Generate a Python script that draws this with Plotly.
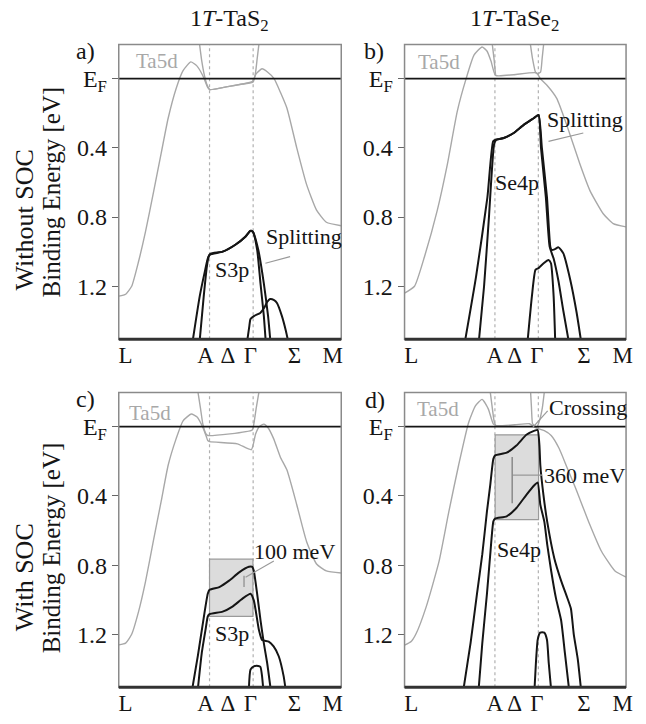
import plotly.graph_objects as go

# ---------------- data ----------------
K_A = 0.408   # A point along path (L=0, M=1)
K_G = 0.604   # Gamma point
k_tick_text = ["L", "A", "Δ", "Γ", "Σ", "M"]
k_tick_vals_left = [0.03, 0.39, 0.49, 0.592, 0.79, 0.962]
k_tick_vals_right = [0.03, 0.408, 0.497, 0.597, 0.81, 0.985]
e_tick_vals = [0, 0.4, 0.8, 1.2]
e_tick_text = ["E<sub>F</sub>", "0.4", "0.8", "1.2"]

# panel a: 1T-TaS2 without SOC
a_ta5d_k = [0, 0.031, 0.058, 0.089, 0.12, 0.156, 0.191, 0.222, 0.258, 0.289, 0.324, 0.351, 0.378, 0.4, 0.409, 0.489, 0.556, 0.6, 0.618, 0.644, 0.667, 0.698, 0.727, 0.756, 0.8, 0.844, 0.889, 0.933, 1.0]
a_ta5d_e = [1.257, 1.246, 1.2, 1.057, 0.886, 0.657, 0.429, 0.229, 0.057, -0.046, -0.097, -0.074, -0.017, 0.051, 0.063, 0.046, 0.031, 0.017, -0.029, -0.057, -0.04, 0, 0.08, 0.171, 0.4, 0.611, 0.76, 0.83, 0.85]
a_pocket_k = [0.363, 0.373, 0.385, 0.398, 0.409, 0.489, 0.556, 0.604, 0.615, 0.622, 0.63]
a_pocket_e = [-0.2, -0.103, -0.019, 0.04, 0.063, 0.046, 0.031, 0.019, -0.038, -0.114, -0.2]
a_p1_k = [0.333, 0.364, 0.387, 0.4, 0.409, 0.467, 0.524, 0.569, 0.591, 0.603, 0.622, 0.637, 0.652, 0.66]
a_p1_e = [1.51, 1.257, 1.114, 1.04, 1.017, 1.0, 0.96, 0.914, 0.88, 0.886, 0.989, 1.183, 1.371, 1.51]
a_p2_k = [0.364, 0.382, 0.396, 0.404, 0.413, 0.467, 0.524, 0.569, 0.591, 0.603, 0.627, 0.652, 0.671, 0.681]
a_p2_e = [1.51, 1.257, 1.086, 1.029, 1.011, 1.0, 0.96, 0.914, 0.88, 0.886, 0.989, 1.183, 1.371, 1.51]
a_p3_k = [0.578, 0.587, 0.592, 0.609, 0.636, 0.653, 0.667, 0.68, 0.698, 0.711, 0.733, 0.751, 0.76]
a_p3_e = [1.51, 1.429, 1.389, 1.371, 1.354, 1.326, 1.291, 1.274, 1.28, 1.297, 1.371, 1.457, 1.51]

# panel b: 1T-TaSe2 without SOC
b_ta5d_k = [0, 0.045, 0.09, 0.148, 0.193, 0.238, 0.278, 0.314, 0.35, 0.372, 0.39, 0.411, 0.493, 0.596, 0.613, 0.643, 0.687, 0.732, 0.792, 0.837, 0.897, 0.942, 1.0]
b_ta5d_e = [1.24, 1.2, 1.029, 0.76, 0.497, 0.189, 0, -0.137, -0.183, -0.16, -0.103, -0.019, -0.023, -0.034, 0.0, 0.038, 0.114, 0.267, 0.495, 0.647, 0.781, 0.838, 0.857]
b_pocket_k = [0.396, 0.404, 0.411, None, 0.568, 0.578, 0.591, 0.6, 0.614, 0.621, 0.628]
b_pocket_e = [-0.2, -0.114, -0.019, None, -0.2, -0.114, -0.038, -0.028, -0.038, -0.114, -0.2]
b_p1_k = [0.274, 0.323, 0.374, 0.4, 0.411, 0.448, 0.493, 0.538, 0.583, 0.605, 0.62, 0.643, 0.658, 0.664, 0.677, 0.695, 0.717, 0.748, 0.777, 0.796]
b_p1_e = [1.51, 1.143, 0.686, 0.362, 0.353, 0.343, 0.314, 0.267, 0.229, 0.21, 0.4, 0.686, 0.971, 0.99, 0.987, 0.975, 1.01, 1.162, 1.353, 1.51]
b_p2_k = [0.336, 0.359, 0.381, 0.404, 0.413, 0.448, 0.493, 0.538, 0.583, 0.605, 0.616, 0.638, 0.655, 0.673, 0.695, 0.717, 0.74]
b_p2_e = [1.51, 1.2, 0.8, 0.381, 0.354, 0.343, 0.314, 0.267, 0.229, 0.21, 0.4, 0.686, 0.971, 1.04, 1.171, 1.343, 1.51]
b_p3_k = [0.556, 0.575, 0.591, 0.605, 0.628, 0.65, 0.661, 0.673, 0.68]
b_p3_e = [1.51, 1.257, 1.105, 1.095, 1.067, 1.048, 1.067, 1.257, 1.51]

# panel c: 1T-TaS2 with SOC
c_ta5d_k = [0, 0.031, 0.058, 0.089, 0.12, 0.156, 0.191, 0.222, 0.258, 0.289, 0.326, 0.351, 0.378, 0.392, 0.4, 0.409, 0.533, 0.596, 0.615, 0.631, 0.652, 0.671, 0.696, 0.726, 0.756, 0.8, 0.844, 0.889, 0.933, 1.0]
c_ta5d_e = [1.261, 1.251, 1.2, 1.069, 0.897, 0.657, 0.429, 0.223, 0.069, -0.034, -0.073, -0.057, 0.004, 0.051, 0.08, 0.086, 0.099, 0.133, 0.042, 0.0, -0.015, 0.006, 0.069, 0.175, 0.251, 0.451, 0.663, 0.794, 0.834, 0.846]
c_pocket_k = [0.356, 0.367, 0.378, 0.392, 0.4, 0.6, 0.607, 0.618, 0.63]
c_pocket_e = [-0.2, -0.109, -0.015, 0.042, 0.051, 0.019, -0.015, -0.109, -0.2]
c_p1_k = [0.331, 0.356, 0.378, 0.4, 0.408, 0.452, 0.496, 0.541, 0.585, 0.6, 0.607, 0.622, 0.637, 0.652, 0.667, 0.682]
c_p1_e = [1.51, 1.32, 1.137, 0.966, 0.943, 0.927, 0.89, 0.842, 0.81, 0.81, 0.833, 0.966, 1.118, 1.251, 1.366, 1.51]
c_p2_k = [0.356, 0.373, 0.391, 0.4, 0.408, 0.467, 0.511, 0.556, 0.592, 0.607, 0.63, 0.644, 0.674, 0.696, 0.719, 0.741, 0.749]
c_p2_e = [1.51, 1.309, 1.166, 1.097, 1.084, 1.069, 1.04, 0.994, 0.966, 1.004, 1.175, 1.233, 1.242, 1.27, 1.327, 1.442, 1.51]
c_p3_k = [0.585, 0.592, 0.607, 0.627, 0.637, 0.644, 0.649]
c_p3_e = [1.51, 1.404, 1.385, 1.383, 1.389, 1.442, 1.51]
c_box_k = [0.408, 0.603]
c_box_e = [0.766, 1.097]

# panel d: 1T-TaSe2 with SOC
d_ta5d_k = [0, 0.031, 0.053, 0.098, 0.156, 0.2, 0.244, 0.289, 0.32, 0.35, 0.378, 0.401, 0.416, 0.498, 0.564, 0.591, 0.631, 0.662, 0.698, 0.733, 0.772, 0.831, 0.889, 0.95, 1.0]
d_ta5d_e = [1.263, 1.24, 1.194, 1.04, 0.777, 0.491, 0.223, -0.023, -0.12, -0.158, -0.103, -0.015, -0.006, -0.011, -0.017, 0.006, 0.023, 0.051, 0.126, 0.234, 0.354, 0.549, 0.72, 0.834, 0.869]
d_pocket_k = [0.387, 0.396, 0.404, 0.411, None, 0.569, 0.573, 0.578, 0.588, 0.596, 0.609, 0.622, 0.631]
d_pocket_e = [-0.2, -0.109, -0.034, -0.006, None, -0.2, -0.109, -0.017, -0.005, 0.006, -0.034, -0.109, -0.2]
d_p1_k = [0.267, 0.298, 0.327, 0.351, 0.372, 0.387, 0.401, 0.409, 0.461, 0.505, 0.55, 0.587, 0.601, 0.609, 0.613, 0.627, 0.644, 0.676, 0.707, 0.733, 0.751, 0.764, 0.782, 0.796]
d_p1_e = [1.51, 1.251, 0.966, 0.737, 0.49, 0.337, 0.185, 0.166, 0.15, 0.109, 0.047, 0.023, 0.019, 0.109, 0.223, 0.394, 0.549, 0.76, 0.891, 0.983, 1.051, 1.2, 1.343, 1.51]
d_p2_k = [0.335, 0.351, 0.372, 0.387, 0.401, 0.409, 0.461, 0.505, 0.55, 0.587, 0.601, 0.613, 0.631, 0.644, 0.662, 0.684, 0.707, 0.724, 0.742]
d_p2_e = [1.51, 1.251, 0.966, 0.737, 0.547, 0.531, 0.518, 0.47, 0.394, 0.337, 0.322, 0.451, 0.549, 0.68, 0.834, 0.994, 1.12, 1.309, 1.51]
d_p3_k = [0.587, 0.593, 0.601, 0.612, 0.631, 0.643, 0.651, 0.661]
d_p3_e = [1.51, 1.366, 1.232, 1.19, 1.19, 1.232, 1.366, 1.51]
d_box_k = [0.409, 0.605]
d_box_e = [0.047, 0.537]

column_titles = ["1<i>T</i>-TaS<sub>2</sub>", "1<i>T</i>-TaSe<sub>2</sub>"]
row_titles = ["Without SOC", "With SOC"]
panel_letters = ["a)", "b)", "c)", "d)"]

# ---------------- styling ----------------
FONT = "Liberation Serif, Times New Roman, serif"
GRAY = "#a8a8a8"
BLACK = "#151515"
PAGE_W, PAGE_H = 646, 724
OFF = 8                      # default page margin of the html body
W, H = PAGE_W - 2 * OFF, PAGE_H - 2 * OFF


def px(x):
    return (x - OFF) / W


def py(y):
    return 1 - (y - OFF) / H


col_dom = [[px(120), px(345)], [px(409), px(633)]]
row_dom = [[py(343), py(45)], [py(695), py(397)]]
col_ticks = [k_tick_vals_left, k_tick_vals_right]

fig = go.Figure()

panels = [
    dict(ta5d=(a_ta5d_k, a_ta5d_e), pocket=(a_pocket_k, a_pocket_e),
         bands=[(a_p1_k, a_p1_e), (a_p2_k, a_p2_e), (a_p3_k, a_p3_e)], box=None, row=0, col=0),
    dict(ta5d=(b_ta5d_k, b_ta5d_e), pocket=(b_pocket_k, b_pocket_e),
         bands=[(b_p1_k, b_p1_e), (b_p2_k, b_p2_e), (b_p3_k, b_p3_e)], box=None, row=0, col=1),
    dict(ta5d=(c_ta5d_k, c_ta5d_e), pocket=(c_pocket_k, c_pocket_e),
         bands=[(c_p1_k, c_p1_e), (c_p2_k, c_p2_e), (c_p3_k, c_p3_e)], box=(c_box_k, c_box_e), row=1, col=0),
    dict(ta5d=(d_ta5d_k, d_ta5d_e), pocket=(d_pocket_k, d_pocket_e),
         bands=[(d_p1_k, d_p1_e), (d_p2_k, d_p2_e), (d_p3_k, d_p3_e)], box=(d_box_k, d_box_e), row=1, col=1),
]

shapes = []
annotations = []
for i, p in enumerate(panels):
    n = "" if i == 0 else str(i + 1)
    xr, yr = "x" + n, "y" + n
    if p["box"] is not None:
        bk, be = p["box"]
        shapes.append(dict(type="rect", xref=xr, yref=yr, x0=bk[0], x1=bk[1], y0=be[0], y1=be[1],
                           fillcolor="#dcdcdc", line=dict(color="#9a9a9a", width=1.2), layer="below"))
    for kv in (K_A, K_G):
        shapes.append(dict(type="line", xref=xr, yref=yr + " domain", x0=kv, x1=kv, y0=0, y1=1,
                           line=dict(color="#b0b0b0", width=1.2, dash="dot"), layer="below"))
    for kk, ee in [p["ta5d"], p["pocket"]]:
        fig.add_trace(go.Scatter(x=kk, y=ee, mode="lines", xaxis=xr, yaxis=yr, connectgaps=False,
                                 line=dict(color=GRAY, width=1.4, shape="spline", smoothing=0.5),
                                 hoverinfo="skip", showlegend=False))
    for kk, ee in p["bands"]:
        fig.add_trace(go.Scatter(x=kk, y=ee, mode="lines", xaxis=xr, yaxis=yr,
                                 line=dict(color=BLACK, width=2, shape="spline", smoothing=0.5),
                                 hoverinfo="skip", showlegend=False))
    shapes.append(dict(type="line", xref=xr + " domain", yref=yr, x0=0, x1=1, y0=0, y1=0,
                       line=dict(color=BLACK, width=1.8)))
    shapes.append(dict(type="rect", xref=xr + " domain", yref=yr + " domain", x0=0, x1=1, y0=0, y1=1,
                       line=dict(color="#8a8a8a", width=1.5)))
    shapes.append(dict(type="line", xref=xr + " domain", yref=yr + " domain", x0=0, x1=1, y0=0, y1=0,
                       line=dict(color="#333333", width=3)))
    annotations.append(dict(xref=xr, yref=yr, x=[0.171, 0.157, 0.14, 0.153][i], y=[-0.103, -0.097, -0.082, -0.1][i],
                            text="Ta5d", showarrow=False, xanchor="center", yanchor="middle",
                            font=dict(family=FONT, size=21, color=GRAY)))
    annotations.append(dict(xref="paper", yref="paper", x=px([86, 378, 86, 379][i]),
                            y=py([51, 51, 403, 404][i]), text=panel_letters[i], showarrow=False,
                            xanchor="center", yanchor="middle",
                            font=dict(family=FONT, size=24, color=BLACK)))

    fig.layout["xaxis" + n] = dict(domain=col_dom[p["col"]], range=[0, 1], anchor=yr,
                                   tickvals=col_ticks[p["col"]], ticktext=k_tick_text, ticks="",
                                   showgrid=False, zeroline=False, showline=False,
                                   tickfont=dict(family=FONT, size=23, color=BLACK))
    fig.layout["yaxis" + n] = dict(domain=row_dom[p["row"]], range=[1.506, -0.197], anchor=xr,
                                   tickvals=e_tick_vals, ticktext=e_tick_text, ticks="outside",
                                   ticklen=6, tickcolor="#666", tickwidth=1.2,
                                   showgrid=False, zeroline=False, showline=False,
                                   tickfont=dict(family=FONT, size=24, color=BLACK))


def seg(xr, yr, x0, y0, x1, y1, color="#999999", width=1.2):
    shapes.append(dict(type="line", xref=xr, yref=yr, x0=x0, y0=y0, x1=x1, y1=y1,
                       line=dict(color=color, width=width)))


def txt(xr, yr, x, y, s, anchor="center", size=22, color=BLACK):
    annotations.append(dict(xref=xr, yref=yr, x=x, y=y, text=s, showarrow=False, xanchor=anchor,
                            yanchor="middle", font=dict(family=FONT, size=size, color=color)))


# panel a
txt("x", "y", 0.652, 0.914, "Splitting", "left")
seg("x", "y", 0.77, 1.029, 0.659, 1.067)
txt("x", "y", 0.508, 1.105, "S3p")
# panel b
txt("x2", "y2", 0.635, 0.238, "Splitting", "left")
seg("x2", "y2", 0.807, 0.314, 0.65, 0.362)
txt("x2", "y2", 0.508, 0.6, "Se4p")
# panel c
txt("x3", "y3", 0.6, 0.72, "100 meV", "left")
seg("x3", "y3", 0.697, 0.776, 0.57, 0.87)
seg("x3", "y3", 0.563, 0.861, 0.563, 0.927, color="#8a8a8a")
txt("x3", "y3", 0.508, 1.194, "S3p")
# panel d
txt("x4", "y4", 0.644, -0.11, "Crossing", "left")
seg("x4", "y4", 0.646, -0.091, 0.579, 0.004)
txt("x4", "y4", 0.622, 0.28, "360 meV", "left")
seg("x4", "y4", 0.486, 0.28, 0.621, 0.28)
seg("x4", "y4", 0.486, 0.175, 0.486, 0.442, color="#8a8a8a", width=1.5)
txt("x4", "y4", 0.516, 0.709, "Se4p")

for j, t in enumerate(column_titles):
    annotations.append(dict(xref="paper", yref="paper", x=px([232, 520][j]), y=py(20), text=t,
                            showarrow=False, xanchor="center", yanchor="middle",
                            font=dict(family=FONT, size=24, color=BLACK)))
for r, t in enumerate(row_titles):
    annotations.append(dict(xref="paper", yref="paper", x=px(25), y=py([222, 584][r]), text=t,
                            textangle=-90, showarrow=False, xanchor="center", yanchor="middle",
                            font=dict(family=FONT, size=26, color=BLACK)))
    annotations.append(dict(xref="paper", yref="paper", x=px(52), y=py([194, 554][r]),
                            text="Binding Energy [eV]", textangle=-90, showarrow=False,
                            xanchor="center", yanchor="middle",
                            font=dict(family=FONT, size=25, color=BLACK)))

fig.update_layout(width=W, height=H, margin=dict(l=0, r=0, t=0, b=0),
                  paper_bgcolor="white", plot_bgcolor="white",
                  shapes=shapes, annotations=annotations, showlegend=False)

fig.write_html("out.html")
